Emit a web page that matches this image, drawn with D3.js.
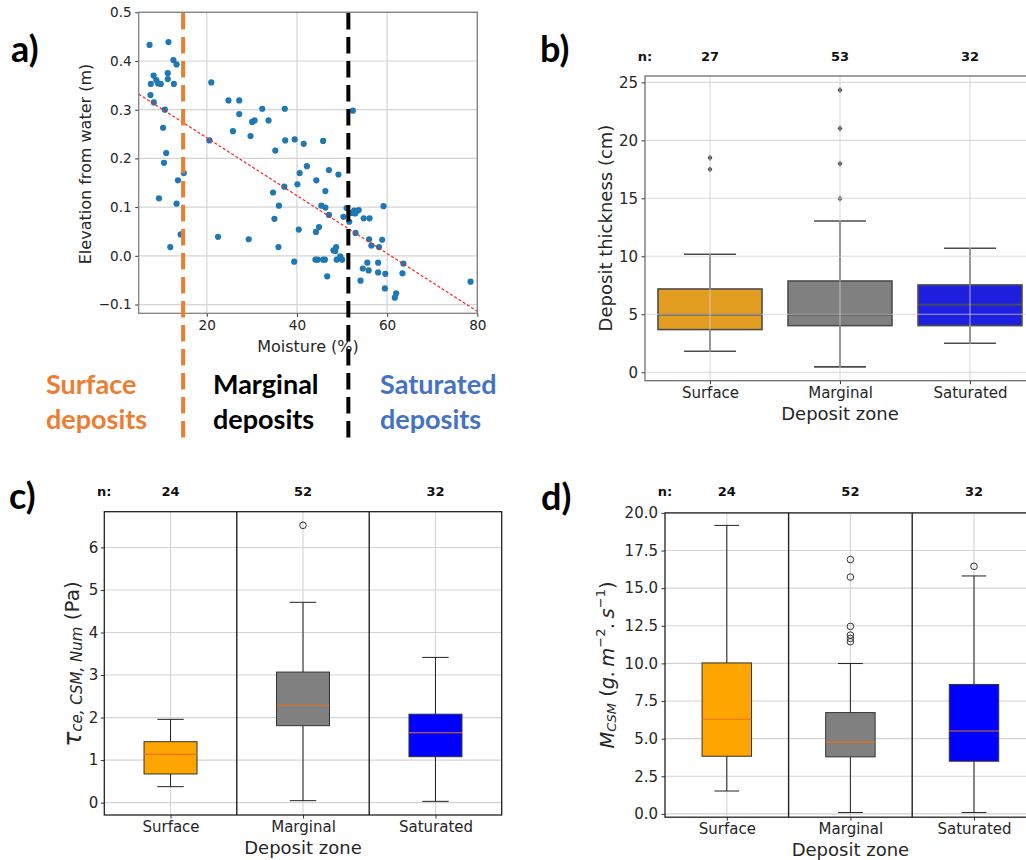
<!DOCTYPE html>
<html><head><meta charset="utf-8">
<script src="https://cdn.jsdelivr.net/npm/d3@7"></script>
<style>body{margin:0;background:#fff}svg{display:block}</style>
</head><body>
<svg id="c" width="1026" height="860"></svg>
<script>
// ---------------- data ----------------
const moisture = [7.3,11.5,12.6,13.3,8.2,11.35,8.8,11.35,7.6,9.2,9.8,12.7,7.5,8.25,10.7,10.3,11.0,10.5,13.6,14.9,9.4,13.3,14.2,11.9,
  21.0,20.6,22.5,24.8,27.2,27.2,25.8,32.3,30.05,30.6,33.7,29.7,29.3,37.3,37.4,35.2,39.5,41.5,45.8,42.2,40.6,47.1,49.2,40.1,37.2,44.3,46.3,
  34.7,36.0,45.4,46.3,47.1,35.0,40.4,44.9,44.2,35.9,39.4,44.1,44.6,45.8,46.2,46.7,48.1,48.7,48.5,48.8,49.6,50.0,51.0,50.3,51.6,52.4,52.1,
  52.7,53.3,53.7,52.9,53.0,54.8,56.1,56.0,56.5,58.2,58.9,59.2,55.6,54.6,55.9,58.0,58.0,59.6,54.1,59.5,62.0,61.7,63.6,63.4,78.5];
const elevation = [0.433,0.439,0.402,0.393,0.370,0.375,0.361,0.363,0.353,0.354,0.353,0.353,0.330,0.315,0.300,0.263,0.211,0.191,0.155,0.170,0.118,0.107,0.044,0.018,
  0.356,0.237,0.039,0.319,0.319,0.291,0.256,0.302,0.275,0.278,0.278,0.246,0.034,0.302,0.237,0.216,0.239,0.230,0.236,0.184,0.170,0.176,0.167,0.147,0.142,0.155,0.133,
  0.130,0.103,0.103,0.099,0.084,0.076,0.054,0.059,0.049,0.018,-0.012,-0.008,-0.008,-0.008,-0.008,-0.042,0.011,0.018,0.010,-0.008,-0.001,-0.008,0.098,0.080,0.070,0.298,0.088,
  0.093,0.092,0.094,0.087,0.047,0.077,0.077,0.034,0.021,0.018,0.033,0.102,-0.014,-0.026,-0.030,-0.014,-0.034,-0.037,-0.051,-0.067,-0.077,-0.086,-0.016,-0.036,-0.053];
const regMoisture = [4.9, 80];
const regElevation = [0.332, -0.114];
const zoneLimits = [14.75, 51.4];
const moistTicks = [20, 40, 60, 80];
const elevTicks = [-0.1, 0, 0.1, 0.2, 0.3, 0.4, 0.5];

const zones = ["Surface", "Marginal", "Saturated"];
const zoneText = [["Surface", "deposits"], ["Marginal", "deposits"], ["Saturated", "deposits"]];

// [low whisker, Q1, median, Q3, high whisker]
const thicknessN = [27, 53, 32];
const thicknessBox = [[1.81, 3.68, 4.97, 7.18, 10.17], [0.46, 4.02, 4.97, 7.87, 13.05], [2.5, 4.02, 5.83, 7.53, 10.69]];
const thicknessOut = [[18.5, 17.5], [24.34, 21.03, 17.99, 14.97], []];
const thickTicks = [0, 5, 10, 15, 20, 25];

const tauN = [24, 52, 32];
const tauBox = [[0.376, 0.674, 1.136, 1.433, 1.958], [0.047, 1.81, 2.29, 3.07, 4.71], [0.031, 1.08, 1.645, 2.08, 3.415]];
const tauOut = [[], [6.52], []];
const tauTicks = [0, 1, 2, 3, 4, 5, 6];

const massN = [24, 52, 32];
const massBox = [[1.52, 3.83, 6.29, 10.03, 19.17], [0.09, 3.79, 4.77, 6.73, 9.99], [0.09, 3.5, 5.51, 8.6, 15.81]];
const massOut = [[], [16.9, 15.74, 12.46, 11.88, 11.66, 11.44], [16.45]];
const massTicks = [0, 2.5, 5, 7.5, 10, 12.5, 15, 17.5, 20];

// ---------------- drawing ----------------
const FONT = "DejaVu Sans";
const svg = d3.select("#c");
svg.append("rect").attr("width", 1026).attr("height", 860).attr("fill", "#fff");

function styleAxis(g, fs, tickColor) {
  g.select(".domain").remove();
  g.selectAll(".tick line").attr("stroke", tickColor);
  g.selectAll(".tick text").attr("font-family", FONT).attr("font-size", fs).attr("fill", "#262626");
}

// ===== Panel a =====
{
  const L = 138.7, R = 477.3, T = 12.3, B = 313.3;
  const x = d3.scaleLinear().domain([4.9, 80]).range([L, R]);
  const y = d3.scaleLinear().domain([-0.118, 0.5]).range([B, T]);
  const g = svg.append("g");
  svg.append("clipPath").attr("id", "clipA").append("rect").attr("x", L).attr("y", T).attr("width", R - L).attr("height", B - T);
  g.append("g").selectAll("line").data(moistTicks).join("line")
    .attr("x1", d => x(d)).attr("x2", d => x(d)).attr("y1", T).attr("y2", B).attr("stroke", "#d4d4d4").attr("stroke-width", 1.2);
  g.append("g").selectAll("line").data(elevTicks).join("line")
    .attr("y1", d => y(d)).attr("y2", d => y(d)).attr("x1", L).attr("x2", R).attr("stroke", "#d4d4d4").attr("stroke-width", 1.2);
  const pts = g.append("g").attr("clip-path", "url(#clipA)");
  pts.selectAll("circle").data(moisture).join("circle")
    .attr("cx", d => x(d)).attr("cy", (d, i) => y(elevation[i])).attr("r", 3.1).attr("fill", "#1f77b4");
  pts.append("line").attr("x1", x(regMoisture[0])).attr("y1", y(regElevation[0]))
    .attr("x2", x(regMoisture[1])).attr("y2", y(regElevation[1]))
    .attr("stroke", "#ff2020").attr("stroke-width", 1.2).attr("stroke-dasharray", "3,2");
  const ya = g.append("g").attr("transform", `translate(${L},0)`)
    .call(d3.axisLeft(y).tickValues(elevTicks).tickFormat(d3.format(".1f")).tickSize(3.5).tickPadding(3.5));
  styleAxis(ya, 13.6, "#333");
  const xa = g.append("g").attr("transform", `translate(0,${B})`)
    .call(d3.axisBottom(x).tickValues(moistTicks).tickFormat(d3.format("d")).tickSize(3.5).tickPadding(3.5));
  styleAxis(xa, 13.6, "#333");
  g.append("rect").attr("x", L).attr("y", T).attr("width", R - L).attr("height", B - T)
    .attr("fill", "none").attr("stroke", "#808080").attr("stroke-width", 1.3);
  g.append("text").attr("x", (L + R) / 2).attr("y", 352).attr("text-anchor", "middle")
    .attr("font-family", FONT).attr("font-size", 16).attr("fill", "#262626").text("Moisture (%)");
  g.append("text").attr("transform", `translate(85,164) rotate(-90)`).attr("text-anchor", "middle")
    .attr("dominant-baseline", "central").attr("font-family", FONT).attr("font-size", 16).attr("fill", "#262626")
    .text("Elevation from water (m)");
  // zone separators
  const zc = ["#ED7D31", "#000000"];
  g.selectAll("line.zone").data(zoneLimits).join("line").attr("class", "zone")
    .attr("x1", d => x(d)).attr("x2", d => x(d)).attr("y1", 13).attr("y2", 443)
    .attr("stroke", (d, i) => zc[i]).attr("stroke-width", 4).attr("stroke-dasharray", "16.5,7.5");
  const lc = ["#ED7D31", "#000000", "#4472C4"];
  const lx = [46, 213, 380];
  zoneText.forEach((lines, i) => {
    lines.forEach((t, j) => {
      g.append("text").attr("x", lx[i]).attr("y", 394 + j * 35).attr("font-family", "Lato")
        .attr("font-weight", "bold").attr("font-size", 27).attr("fill", lc[i]).text(t);
    });
  });
}

// ===== box panels =====
function boxPanel(o) {
  const g = svg.append("g");
  const x = d3.scaleLinear().domain(o.xDomain).range([o.L, o.R]);
  const y = d3.scaleLinear().domain(o.yDomain).range([o.B, o.T]);
  const gridLayer = g.append("g");
  const drawGrid = (layer) => {
    layer.selectAll("line.gy").data(o.ticks).join("line").attr("class", "gy")
      .attr("x1", o.L).attr("x2", o.R).attr("y1", d => y(d)).attr("y2", d => y(d))
      .attr("stroke", o.gridColor).attr("stroke-width", 1.1).attr("opacity", o.gridOpacity);
    layer.selectAll("line.gx").data(o.pos).join("line").attr("class", "gx")
      .attr("x1", d => x(d)).attr("x2", d => x(d)).attr("y1", o.T).attr("y2", o.B)
      .attr("stroke", o.gridColor).attr("stroke-width", 1.1).attr("opacity", o.gridOpacity);
  };
  if (!o.gridOnTop) drawGrid(gridLayer);
  const bw = o.boxWidth, cw = o.capWidth;
  o.stats.forEach((s, i) => {
    const c = o.pos[i];
    const [lo, q1, md, q3, hi] = s;
    const ln = (x1, y1, x2, y2, col, w) => g.append("line").attr("x1", x1).attr("x2", x2).attr("y1", y1).attr("y2", y2)
      .attr("stroke", col).attr("stroke-width", w);
    ln(x(c), y(q1), x(c), y(lo), o.lineColor, o.lineW);
    ln(x(c), y(q3), x(c), y(hi), o.lineColor, o.lineW);
    ln(x(c - cw / 2), y(lo), x(c + cw / 2), y(lo), o.lineColor, o.lineW);
    ln(x(c - cw / 2), y(hi), x(c + cw / 2), y(hi), o.lineColor, o.lineW);
    g.append("rect").attr("x", x(c - bw / 2)).attr("y", y(q3)).attr("width", x(c + bw / 2) - x(c - bw / 2))
      .attr("height", y(q1) - y(q3)).attr("fill", o.colors[i]).attr("stroke", o.boxEdge).attr("stroke-width", o.lineW);
    ln(x(c - bw / 2), y(md), x(c + bw / 2), y(md), o.medColor, o.medW);
    o.outliers[i].forEach(v => {
      if (o.diamond) {
        const px = x(c), py = y(v), r = 3.2;
        g.append("path").attr("d", `M${px},${py - r}L${px + r * 0.75},${py}L${px},${py + r}L${px - r * 0.75},${py}Z`)
          .attr("fill", "#3d3d3d");
      } else {
        g.append("circle").attr("cx", x(c)).attr("cy", y(v)).attr("r", 3.3).attr("fill", "none")
          .attr("stroke", "#333").attr("stroke-width", 1);
      }
    });
  });
  if (o.gridOnTop) drawGrid(g.append("g"));
  (o.seps || []).forEach(v => {
    g.append("line").attr("x1", x(v)).attr("x2", x(v)).attr("y1", o.T).attr("y2", o.B).attr("stroke", "#222").attr("stroke-width", 1.4);
  });
  const ya = g.append("g").attr("transform", `translate(${o.L},0)`)
    .call(d3.axisLeft(y).tickValues(o.ticks).tickFormat(o.fmt).tickSize(3.5).tickPadding(o.yPad));
  styleAxis(ya, o.tickFs, "#333");
  const xa = g.append("g").attr("transform", `translate(0,${o.B})`)
    .call(d3.axisBottom(x).tickValues(o.pos).tickFormat((d, i) => zones[i]).tickSize(3.5).tickPadding(o.xPad));
  styleAxis(xa, o.tickFs, "#333");
  g.append("rect").attr("x", o.L).attr("y", o.T).attr("width", o.R - o.L).attr("height", o.B - o.T)
    .attr("fill", "none").attr("stroke", o.frame).attr("stroke-width", 1.3);
  g.append("text").attr("x", x(o.pos[1])).attr("y", o.xlabY).attr("text-anchor", "middle")
    .attr("font-family", FONT).attr("font-size", 18).attr("fill", "#262626").text("Deposit zone");
  // n labels
  g.append("text").attr("x", o.L).attr("y", o.nY).attr("text-anchor", "middle").attr("font-family", FONT)
    .attr("font-weight", "bold").attr("font-size", 13).attr("fill", "#111").text("n:");
  o.ns.forEach((n, i) => g.append("text").attr("x", x(o.pos[i])).attr("y", o.nY).attr("text-anchor", "middle")
    .attr("font-family", FONT).attr("font-weight", "bold").attr("font-size", 13).attr("fill", "#111").text(n));
  return g;
}

// Panel b (seaborn style)
const gB = boxPanel({
  L: 645, R: 1035, T: 76, B: 380.7, xDomain: [-0.5, 2.5], yDomain: [-0.73, 25.55], pos: [0, 1, 2],
  ticks: thickTicks, fmt: d3.format("d"), stats: thicknessBox, outliers: thicknessOut, ns: thicknessN,
  colors: ["#e39e21", "#808080", "#1f1fdf"], boxWidth: 0.8, capWidth: 0.4, lineColor: "#4d4d4d", boxEdge: "#4d4d4d",
  medColor: "#4d4d4d", medW: 1.6, lineW: 1.6, diamond: true, gridOnTop: true, gridColor: "#cfcfcf", gridOpacity: 0.75,
  frame: "#6f6f6f", tickFs: 15, yPad: 3.5, xPad: 3, xlabY: 419.5, nY: 61
});
gB.append("text").attr("transform", "translate(605,228) rotate(-90)").attr("text-anchor", "middle")
  .attr("dominant-baseline", "central").attr("font-family", FONT).attr("font-size", 18).attr("fill", "#262626")
  .text("Deposit thickness (cm)");

// Panel c
const gC = boxPanel({
  L: 104.3, R: 501.7, T: 511.7, B: 815, xDomain: [0.5, 3.5], yDomain: [-0.29, 6.84], pos: [1, 2, 3],
  ticks: tauTicks, fmt: d3.format("d"), stats: tauBox, outliers: tauOut, ns: tauN,
  colors: ["#ffa500", "#808080", "#0000ff"], boxWidth: 0.4, capWidth: 0.2, lineColor: "#222", boxEdge: "#333",
  medColor: "#e8701a", medW: 1.1, lineW: 1, diamond: false, gridOnTop: false, gridColor: "#d3d3d3", gridOpacity: 1,
  frame: "#222", tickFs: 15, yPad: 2.5, xPad: 2.5, xlabY: 854, nY: 496, seps: [1.5, 2.5]
});
{
  const t = gC.append("text").attr("transform", "translate(72,664) rotate(-90)").attr("text-anchor", "middle")
    .attr("dominant-baseline", "central").attr("font-family", FONT).attr("fill", "#262626");
  t.append("tspan").attr("font-style", "italic").attr("font-size", 25).text("τ");
  t.append("tspan").attr("font-style", "italic").attr("font-size", 15).attr("dy", 5).text("ce, CSM, Num");
  t.append("tspan").attr("font-size", 20).attr("dy", -5).text(" (Pa)");
}

// Panel d
const gD = boxPanel({
  L: 665, R: 1035.8, T: 512.9, B: 817.2, xDomain: [0.5, 3.5], yDomain: [-0.22, 20], pos: [1, 2, 3],
  ticks: massTicks, fmt: d3.format(".1f"), stats: massBox, outliers: massOut, ns: massN,
  colors: ["#ffa500", "#808080", "#0000ff"], boxWidth: 0.4, capWidth: 0.2, lineColor: "#222", boxEdge: "#333",
  medColor: "#e8701a", medW: 1.1, lineW: 1, diamond: false, gridOnTop: false, gridColor: "#d3d3d3", gridOpacity: 1,
  frame: "#222", tickFs: 15, yPad: 3.5, xPad: 2.5, xlabY: 856, nY: 496, seps: [1.5, 2.5]
});
{
  const t = gD.append("text").attr("transform", "translate(607,665) rotate(-90)").attr("text-anchor", "middle")
    .attr("dominant-baseline", "central").attr("font-family", FONT).attr("fill", "#262626").attr("font-size", 19.5);
  t.append("tspan").attr("font-style", "italic").text("M");
  t.append("tspan").attr("font-style", "italic").attr("font-size", 13).attr("dy", 4).text("CSM");
  t.append("tspan").attr("dy", -4).text(" (");
  t.append("tspan").attr("font-style", "italic").text("g.\u2009m");
  t.append("tspan").attr("font-size", 13).attr("dy", -7).text("−2");
  t.append("tspan").attr("font-style", "italic").attr("dy", 7).text(".\u2009s");
  t.append("tspan").attr("font-size", 13).attr("dy", -7).text("−1");
  t.append("tspan").attr("dy", 7).text(")");
}

// panel letters
[["a)", 11, 62], ["b)", 540, 62], ["c)", 9, 509], ["d)", 541, 510]].forEach(([t, px, py]) => {
  svg.append("text").attr("x", px).attr("y", py).attr("font-family", "Lato").attr("font-weight", "bold")
    .attr("font-size", 36).attr("fill", "#000").text(t);
});
</script>
</body></html>
